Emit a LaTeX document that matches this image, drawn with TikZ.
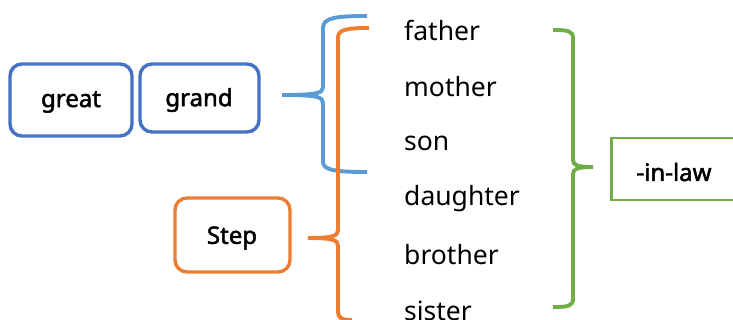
\documentclass[tikz,border=0pt]{standalone}
\usepackage{fontspec}
\setmainfont{Noto Sans}
\newfontfamily\boxfont[FakeBold=2]{Noto Sans}
\definecolor{cblue}{HTML}{4472C4}
\definecolor{clblue}{HTML}{5B9BD5}
\definecolor{corange}{HTML}{ED7D31}
\definecolor{cgreen}{HTML}{70AD47}
\begin{document}
\begin{tikzpicture}[x=1pt,y=-1pt,
  rbox/.style={draw,line width=3.4pt,rounded corners=12pt,inner sep=0pt},
  lbl/.style={font=\boxfont\fontsize{24}{28}\selectfont,inner sep=0pt},
  word/.style={anchor=west,inner sep=0pt,font=\fontsize{26.5}{30}\selectfont},
  bracel/.style={line width=3.9pt}]
\useasboundingbox (0,0) rectangle (733,320);
\clip (0,0) rectangle (733,320);
% boxes
\node[rbox,cblue,minimum width=122pt,minimum height=72pt] (great) at (71,100) {};
\node[rbox,cblue,minimum width=119pt,minimum height=68pt] (grand) at (199.5,98) {};
\node[rbox,corange,minimum width=115pt,minimum height=74pt] (step) at (232.5,235) {};
\node[draw,cgreen,line width=2.6pt,minimum width=140pt,minimum height=62pt,inner sep=0pt,anchor=west] (inlaw) at (610,169) {};
\node[lbl] (greatlbl) at (71,102) {great};
\node[lbl] (grandlbl) at (199,100) {grand};
\node[lbl] (steplbl) at (232,238) {Step};
\node[lbl] (inlawlbl) at (674,172) {-in-law};
% words
\node[word] (father) at (404,30) {father};
\node[word] (mother) at (404,87) {mother};
\node[word] (son) at (404,143) {son};
\node[word] (daughter) at (404,199) {daughter};
\node[word] (brother) at (404,255) {brother};
\node[word] (sister) at (404,311) {sister};
% brace tips
\coordinate (btip) at (282,95);
\coordinate (otip) at (308,238);
\coordinate (gtip) at (593,167);
% blue brace
\draw[bracel,clblue] (367,16) .. controls (335,16) and (323,18) .. (323,28) -- (323,87)
  .. controls (323,93) and (318,95) .. (btip)
  .. controls (318,95) and (323,97) .. (323,103) -- (323,162)
  .. controls (323,170) and (335,172) .. (367,172);
% orange brace
\draw[bracel,corange] (369,28) .. controls (345,28) and (338,30) .. (338,38) -- (338,230)
  .. controls (338,236) and (333,238) .. (otip)
  .. controls (333,238) and (338,240) .. (338,246) -- (338,312)
  .. controls (338,318) and (342,320) .. (352,320);
% green brace
\draw[bracel,cgreen] (553,30) .. controls (568,30) and (573,31) .. (573,38) -- (573,160)
  .. controls (573,165) and (577,167) .. (gtip)
  .. controls (577,167) and (573,169) .. (573,174) -- (573,299)
  .. controls (573,306) and (568,307) .. (553,307);
\end{tikzpicture}
\end{document}
